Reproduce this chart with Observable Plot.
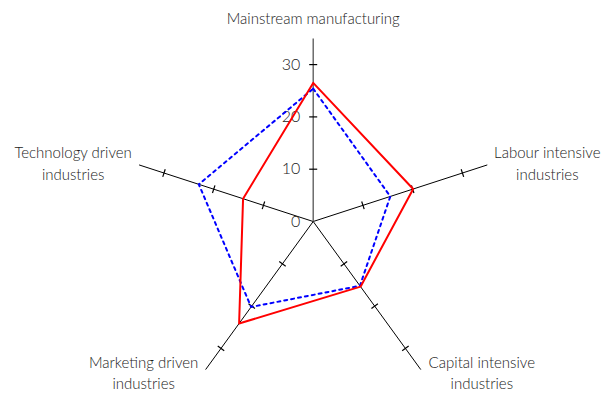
<!DOCTYPE html>
<html>
<head>
<meta charset="utf-8">
<script src="https://cdn.jsdelivr.net/npm/d3@7"></script>
<script src="https://cdn.jsdelivr.net/npm/@observablehq/plot@0.6"></script>
<style>
  body { margin: 0; background: #fff; }
  #chart svg { display: block; }
</style>
</head>
<body>
<div id="chart"></div>
<script>
// ---- data ----
const axisNames = ["Mainstream manufacturing", "Labour intensive\nindustries", "Capital intensive\nindustries", "Marketing driven\nindustries", "Technology driven\nindustries"];
const seriesRed = [26.5, 20.1, 15.4, 24.1, 14.1];
const seriesBlue = [25.4, 15.5, 15.2, 20.2, 23.0];
const tickValues = [10, 20, 30];
const tickLabels = ["0", "10", "20", "30"];
const axisMax = 35;

// ---- layout ----
const W = 604, H = 394;
const cx = 312.7, cy = 221, pxPerUnit = 5.23;
const xDomain = [-cx / pxPerUnit, (W - cx) / pxPerUnit];
const yDomain = [-(H - cy) / pxPerUnit, cy / pxPerUnit];

const n = axisNames.length;
const ang = i => (90 - 72 * i) * Math.PI / 180;
const pt = (i, r) => ({x: r * Math.cos(ang(i)), y: r * Math.sin(ang(i))});

const axesData = axisNames.map((name, i) => ({i, name, ...pt(i, axisMax)}));
const halfTick = 4 / pxPerUnit;
const ticks = [];
axisNames.forEach((_, i) => {
  tickValues.forEach(v => {
    const p = pt(i, v);
    const a = ang(i) + Math.PI / 2;
    ticks.push({x1: p.x - halfTick * Math.cos(a), y1: p.y - halfTick * Math.sin(a),
                x2: p.x + halfTick * Math.cos(a), y2: p.y + halfTick * Math.sin(a), i});
  });
});
const poly = vals => [...vals, vals[0]].map((v, k) => pt(k % n, v));

const labelOffsets = [[0, -21], [60, -3], [61, 2], [-62, 2], [-66, -3]];
const labels = axesData.map((d, i) => ({...d, dx: labelOffsets[i][0], dy: labelOffsets[i][1]}));

const font = "Lato, 'Open Sans', sans-serif";

const chart = Plot.plot({
  width: W, height: H,
  margin: 0,
  x: {domain: xDomain, axis: null},
  y: {domain: yDomain, axis: null},
  style: {fontFamily: font, background: "#fff"},
  marks: [
    Plot.link(axesData.filter(d => d.i !== 0), {x1: 0, y1: 0, x2: "x", y2: "y", stroke: "#000", strokeWidth: 1}),
    Plot.link(axesData.filter(d => d.i === 0), {x1: 0, y1: 0, x2: "x", y2: "y", stroke: "#555", strokeWidth: 1.3}),
    Plot.link(ticks, {x1: "x1", y1: "y1", x2: "x2", y2: "y2", stroke: "#000", strokeWidth: 1.2}),
    Plot.text(tickLabels, {x: 0, y: d => +d, text: d => d, textAnchor: "end", dx: -13, fontSize: 16, fill: "#222", fontWeight: 300}),
    Plot.line(poly(seriesBlue), {x: "x", y: "y", stroke: "#0000ff", strokeWidth: 2, strokeDasharray: "3,4"}),
    Plot.line(poly(seriesRed), {x: "x", y: "y", stroke: "#ff0000", strokeWidth: 2}),
    ...labels.map(d => Plot.text([d], {x: "x", y: "y", text: "name", dx: d.dx, dy: d.dy, textAnchor: "middle", lineHeight: 1.45, fontSize: 15, fill: "#222", fontWeight: 300}))
  ]
});
document.getElementById("chart").append(chart);
</script>
</body>
</html>
